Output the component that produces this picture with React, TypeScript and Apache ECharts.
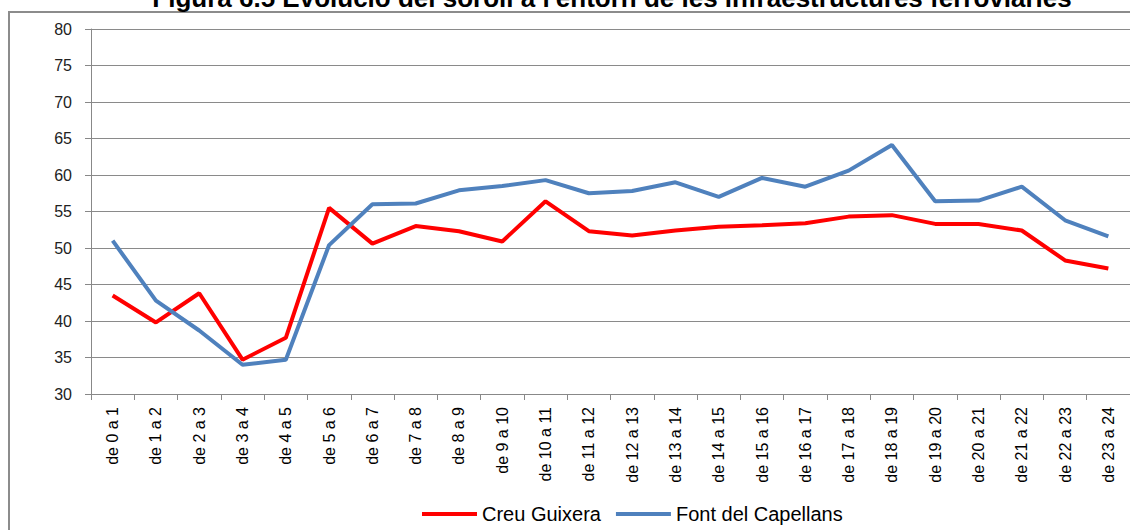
import React, { useEffect, useRef } from "react";
import * as echarts from "echarts";

const categories = [
  "de 0 a 1", "de 1 a 2", "de 2 a 3", "de 3 a 4", "de 4 a 5", "de 5 a 6",
  "de 6 a 7", "de 7 a 8", "de 8 a 9", "de 9 a 10", "de 10 a 11", "de 11 a 12",
  "de 12 a 13", "de 13 a 14", "de 14 a 15", "de 15 a 16", "de 16 a 17", "de 17 a 18",
  "de 18 a 19", "de 19 a 20", "de 20 a 21", "de 21 a 22", "de 22 a 23", "de 23 a 24",
];

const creuGuixera = [
  43.5, 39.8, 43.8, 34.7, 37.7, 55.5, 50.6, 53.0, 52.3, 50.9, 56.4, 52.3,
  51.7, 52.4, 52.9, 53.1, 53.4, 54.3, 54.5, 53.3, 53.3, 52.4, 48.3, 47.2,
];

const fontCapellans = [
  51.0, 42.8, 38.7, 34.0, 34.7, 50.4, 56.0, 56.1, 57.9, 58.5, 59.3, 57.5,
  57.8, 59.0, 57.0, 59.6, 58.4, 60.6, 64.1, 56.4, 56.5, 58.4, 53.8, 51.6,
];

const titleText =
  "Figura 6.5 Evolució del soroll a l'entorn de les infraestructures ferroviàries";

export default function App() {
  const ref = useRef<HTMLDivElement>(null);
  useEffect(() => {
    if (!ref.current) return;
    const chart = echarts.init(ref.current, null, { renderer: "svg" });
    const font = "'Liberation Sans', Arial, sans-serif";
    chart.setOption({
      animation: false,
      backgroundColor: "#ffffff",
      textStyle: { fontFamily: font },
      graphic: [
        {
          type: "rect",
          shape: { x: 9, y: 12, width: 1300, height: 700 },
          style: { fill: "none", stroke: "#8c8c8c", lineWidth: 2 },
          silent: true,
        },
        {
          type: "text",
          x: 612,
          y: 11,
          style: {
            text: titleText,
            font: "bold 26px 'Liberation Sans', Arial, sans-serif",
            fill: "#000",
            textAlign: "center",
            textVerticalAlign: "bottom",
          },
          silent: true,
        },
      ],
      grid: { left: 91, top: 29, bottom: 136, right: -13, containLabel: false },
      legend: {
        bottom: 1,
        left: 417,
        icon: "rect",
        itemWidth: 55,
        itemHeight: 4,
        itemGap: 15,
        textStyle: { fontSize: 20, color: "#000", fontFamily: font },
        data: ["Creu Guixera", "Font del Capellans"],
      },
      xAxis: {
        type: "category",
        data: categories,
        boundaryGap: true,
        axisLine: { lineStyle: { color: "#888", width: 1 } },
        axisTick: { show: true, alignWithLabel: false, length: 6, lineStyle: { color: "#888" } },
        axisLabel: {
          rotate: 90,
          interval: 0,
          margin: 13,
          fontSize: 16,
          color: "#000",
          fontFamily: font,
        },
      },
      yAxis: {
        type: "value",
        min: 30,
        max: 80,
        interval: 5,
        axisLine: { show: true, lineStyle: { color: "#888", width: 1 } },
        axisTick: { show: true, length: 6, lineStyle: { color: "#888" } },
        axisLabel: { margin: 19, fontSize: 16, color: "#222", fontFamily: font },
        splitLine: { show: true, lineStyle: { color: "#8a8a8a", width: 1 } },
      },
      series: [
        {
          name: "Creu Guixera",
          type: "line",
          data: creuGuixera,
          symbol: "none",
          color: "#ff0000",
          lineStyle: { color: "#ff0000", width: 4 },
        },
        {
          name: "Font del Capellans",
          type: "line",
          data: fontCapellans,
          symbol: "none",
          color: "#4f81bd",
          lineStyle: { color: "#4f81bd", width: 4 },
        },
      ],
    });
    return () => chart.dispose();
  }, []);
  return (
    <div
      ref={ref}
      style={{ position: "fixed", left: 0, top: 0, width: 1130, height: 530 }}
    />
  );
}
